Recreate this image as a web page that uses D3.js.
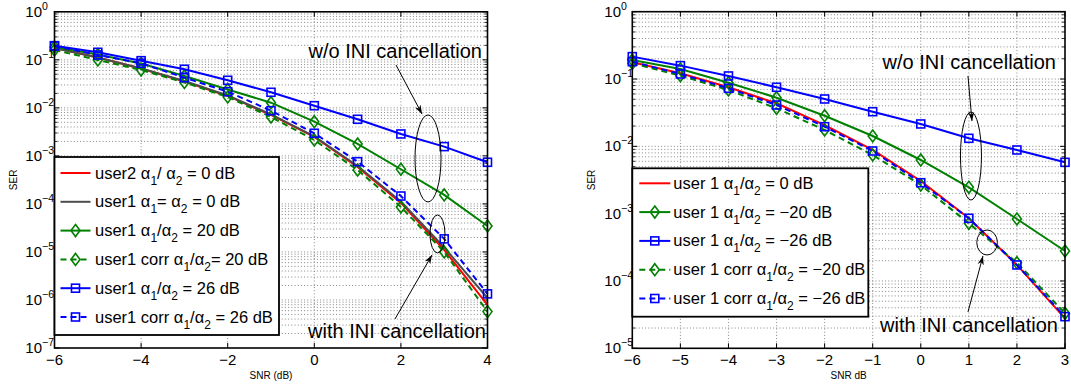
<!DOCTYPE html>
<html><head><meta charset="utf-8">
<script src="https://cdn.jsdelivr.net/npm/d3@7"></script>
<style>body{margin:0;background:#fff;} svg{display:block;font-family:"Liberation Sans",Arial,Helvetica,sans-serif;}</style>
</head><body><svg id="c" width="1071" height="387"></svg>
<script>
// ---------- data: left panel ----------
const snrLeft = [-6,-5,-4,-3,-2,-1,0,1,2,3,4];
const leftUser2Ratio0  = [0.176,0.112,0.066,0.0354,0.0177,0.00711,0.00248,5.88e-4,1.05e-4,1.10e-5,7.9e-7];
const leftUser1Equal0  = [0.176,0.112,0.066,0.0363,0.0181,0.00733,0.00254,6.17e-4,1.12e-4,1.24e-5,1.10e-6];
const leftUser1Ratio20 = [0.185,0.129,0.0839,0.0461,0.0241,0.0128,0.00515,0.00177,5.27e-4,1.54e-4,3.47e-5];
const leftUser1Corr20  = [0.160,0.0993,0.0615,0.0338,0.0168,0.00646,0.00214,5.09e-4,8.65e-5,1.0e-5,5.72e-7];
const leftUser1Ratio26 = [0.197,0.1435,0.096,0.0636,0.0375,0.0211,0.0111,0.00578,0.00286,0.00156,7.36e-4];
const leftUser1Corr26  = [0.194,0.126,0.0848,0.0425,0.0217,0.00874,0.00296,7.58e-4,1.46e-4,1.87e-5,1.34e-6];
const leftXTicks = [-6,-4,-2,0,2,4];
const leftYExponents = [0,-1,-2,-3,-4,-5,-6,-7];
const leftLegendLabels = ["user2 α{1}/ α{2} = 0 dB","user1 α{1}= α{2} = 0 dB","user1 α{1}/α{2} = 20 dB",
  "user1 corr α{1}/α{2}= 20 dB","user1 α{1}/α{2} = 26 dB","user1 corr α{1}/α{2} = 26 dB"];

// ---------- data: right panel ----------
const snrRight = [-6,-5,-4,-3,-2,-1,0,1,2,3];
const rightRatio0   = [0.177,0.1216,0.0754,0.0436,0.0207,0.00883,0.00306,8.53e-4,1.73e-4,2.78e-5];
const rightRatioM20 = [0.192,0.141,0.0882,0.0528,0.0285,0.01425,0.00627,0.00246,8.33e-4,2.79e-4];
const rightRatioM26 = [0.215,0.158,0.111,0.0754,0.0505,0.0327,0.0215,0.01316,0.00883,0.00579];
const rightCorrM20  = [0.171,0.112,0.0687,0.0367,0.0175,0.00743,0.00267,7.19e-4,1.87e-4,3.31e-5];
const rightCorrM26  = [0.181,0.1188,0.0728,0.0411,0.0196,0.00853,0.00288,8.53e-4,1.73e-4,2.95e-5];
const rightXTicks = [-6,-5,-4,-3,-2,-1,0,1,2,3];
const rightYExponents = [0,-1,-2,-3,-4,-5];
const rightLegendLabels = ["user 1 α{1}/α{2} = 0 dB","user 1 α{1}/α{2} = −20 dB","user 1 α{1}/α{2} = −26 dB",
  "user 1 corr α{1}/α{2} = −20 dB","user 1 corr α{1}/α{2} = −26 dB"];

const RED="#ff0000", GRAY="#4d4d4d", GREEN="#008000", BLUE="#0000ff";

const svg = d3.select('#c');
svg.append('rect').attr('width',1071).attr('height',387).attr('fill','#fff');
const defs = svg.append('defs');
defs.append('marker').attr('id','arr').attr('viewBox','0 0 10 10').attr('refX',10).attr('refY',5)
  .attr('markerWidth',9).attr('markerHeight',9).attr('markerUnits','userSpaceOnUse').attr('orient','auto')
  .append('path').attr('d','M0,1.5 L10,5 L0,8.5 L3,5 Z').attr('fill','#000');

function minus(s){ return String(s).replace('-','−'); }

function drawMarker(g, type, cx, cy, color){
  if(type==='diamond'){
    g.append('path').attr('d',`M${cx},${cy-6} L${cx+4.5},${cy} L${cx},${cy+6} L${cx-4.5},${cy} Z`)
      .attr('fill','none').attr('stroke',color).attr('stroke-width',1.6);
  } else if(type==='square'){
    g.append('rect').attr('x',cx-4).attr('y',cy-4).attr('width',8).attr('height',8)
      .attr('fill','none').attr('stroke',color).attr('stroke-width',1.6);
  }
}

function richText(sel, str, subSize){
  const parts = str.split(/\{(\d)\}/);
  let off = 0;
  parts.forEach((p,i)=>{
    if(p==='') return;
    if(i%2===1){
      sel.append('tspan').attr('font-size',subSize).attr('dy',6-off).text(p); off=6;
    } else {
      sel.append('tspan').attr('dy',0-off).text(p); off=0;
    }
  });
}

function panel(cfg){
  const x = d3.scaleLinear().domain(cfg.xDomain).range([cfg.left,cfg.right]);
  const y = d3.scaleLog().domain(cfg.yDomain).range([cfg.top,cfg.bottom]);
  const g = svg.append('g');
  const eMin = d3.min(cfg.yExp), eMax = d3.max(cfg.yExp);
  const GRID = '#6a6a6a';
  const gridVals = [];
  for(let e=eMin;e<eMax;e++){ for(let m=1;m<=9;m++){ const v=m*Math.pow(10,e); if(v>cfg.yDomain[1]*1.0001 && v<cfg.yDomain[0]*0.9999) gridVals.push(v);} }
  g.selectAll(null).data(gridVals).enter().append('line')
    .attr('x1',cfg.left).attr('x2',cfg.right).attr('y1',d=>y(d)).attr('y2',d=>y(d))
    .attr('stroke',GRID).attr('stroke-width',0.8).attr('stroke-dasharray','1,2.2');
  g.selectAll(null).data(cfg.xTicks.slice(1,-1)).enter().append('line')
    .attr('x1',d=>x(d)).attr('x2',d=>x(d)).attr('y1',cfg.top).attr('y2',cfg.bottom)
    .attr('stroke',GRID).attr('stroke-width',0.8).attr('stroke-dasharray','1,2.2');
  const minorTicks=[];
  for(let e=eMin;e<eMax;e++){ for(let m=2;m<=9;m++) minorTicks.push(m*Math.pow(10,e)); }
  const majorY = cfg.yExp.map(e=>Math.pow(10,e));
  [[cfg.left,1],[cfg.right,-1]].forEach(([x0,s])=>{
    g.selectAll(null).data(majorY).enter().append('line').attr('x1',x0).attr('x2',x0+s*5)
      .attr('y1',d=>y(d)).attr('y2',d=>y(d)).attr('stroke','#000').attr('stroke-width',1);
    g.selectAll(null).data(minorTicks).enter().append('line').attr('x1',x0).attr('x2',x0+s*3)
      .attr('y1',d=>y(d)).attr('y2',d=>y(d)).attr('stroke','#000').attr('stroke-width',0.8);
  });
  [[cfg.bottom,-1],[cfg.top,1]].forEach(([y0,s])=>{
    g.selectAll(null).data(cfg.xTicks).enter().append('line').attr('y1',y0).attr('y2',y0+s*5)
      .attr('x1',d=>x(d)).attr('x2',d=>x(d)).attr('stroke','#000').attr('stroke-width',1);
  });
  const line = d3.line().x(d=>x(d[0])).y(d=>y(d[1]));
  cfg.series.forEach(s=>{
    const pts = cfg.xs.map((v,i)=>[v,s.values[i]]);
    g.append('path').attr('d',line(pts)).attr('fill','none').attr('stroke',s.color)
      .attr('stroke-width',2).attr('stroke-dasharray',s.dash?'6,4':null);
    if(s.marker){ pts.forEach(p=>drawMarker(g,s.marker,x(p[0]),y(p[1]),s.color)); }
  });
  g.append('rect').attr('x',cfg.left).attr('y',cfg.top).attr('width',cfg.right-cfg.left).attr('height',cfg.bottom-cfg.top)
    .attr('fill','none').attr('stroke','#000').attr('stroke-width',1.6);
  g.selectAll(null).data(cfg.xTicks).enter().append('text').attr('x',d=>x(d)).attr('y',cfg.bottom+17)
    .attr('text-anchor','middle').attr('font-size',15).text(d=>minus(d));
  cfg.yExp.forEach(e=>{
    const yy = y(Math.pow(10,e));
    g.append('text').attr('x',cfg.left-cfg.tenGap).attr('y',yy+5).attr('text-anchor','end').attr('font-size',15).text('10');
    g.append('text').attr('x',cfg.left-cfg.tenGap).attr('y',yy-2).attr('text-anchor','start').attr('font-size',10.5).text(minus(e));
  });
  g.append('text').attr('x',(cfg.left+cfg.right)/2).attr('y',379).attr('text-anchor','middle').attr('font-size',10).text(cfg.xLabel);
  g.append('text').attr('transform',`translate(${cfg.yLabelX},${(cfg.top+cfg.bottom)/2}) rotate(-90)`)
    .attr('text-anchor','middle').attr('font-size',10).text('SER');
  const L = cfg.legend;
  g.append('rect').attr('x',L.x).attr('y',L.y).attr('width',L.w).attr('height',L.h)
    .attr('fill','#fff').attr('stroke','#000').attr('stroke-width',1.8);
  cfg.series.forEach((s,i)=>{
    const cy = L.y + L.first + i*L.step;
    g.append('line').attr('x1',L.x+L.lx0).attr('x2',L.x+L.lx1).attr('y1',cy).attr('y2',cy)
      .attr('stroke',s.color).attr('stroke-width',2).attr('stroke-dasharray',s.dash?'6,4':null);
    if(s.marker) drawMarker(g,s.marker,L.x+(L.lx0+L.lx1)/2,cy,s.color);
    const t = g.append('text').attr('x',L.x+L.tx).attr('y',cy+5.5).attr('font-size',16.5).attr('fill','#000');
    richText(t, cfg.labels[i], 12);
  });
  cfg.notes.forEach(n=>{
    if(n.type==='ellipse'){
      g.append('ellipse').attr('cx',x(n.x)).attr('cy',y(n.y)).attr('rx',n.rx).attr('ry',n.ry)
        .attr('fill','none').attr('stroke','#000').attr('stroke-width',1);
    } else if(n.type==='arrow'){
      g.append('line').attr('x1',x(n.x0)).attr('y1',y(n.y0)).attr('x2',x(n.x1)).attr('y2',y(n.y1))
        .attr('stroke','#000').attr('stroke-width',1).attr('marker-end','url(#arr)');
    } else if(n.type==='text'){
      g.append('text').attr('x',x(n.x)).attr('y',y(n.y)).attr('text-anchor','end').attr('font-size',20).text(n.text);
    }
  });
}

panel({
  left:54.5, right:487.5, top:11.8, bottom:348, xDomain:[-6,4], yDomain:[1,1e-7],
  xTicks:leftXTicks, yExp:leftYExponents, xs:snrLeft, tenGap:12.5, yLabelX:17, xLabel:'SNR (dB)',
  series:[
    {values:leftUser2Ratio0,color:RED},
    {values:leftUser1Equal0,color:GRAY},
    {values:leftUser1Ratio20,color:GREEN,marker:'diamond'},
    {values:leftUser1Corr20,color:GREEN,marker:'diamond',dash:true},
    {values:leftUser1Ratio26,color:BLUE,marker:'square'},
    {values:leftUser1Corr26,color:BLUE,marker:'square',dash:true}
  ],
  labels:leftLegendLabels,
  legend:{x:54.5,y:157,w:224.5,h:178,first:16,step:28.8,lx0:6,lx1:36,tx:40.5},
  notes:[
    {type:'text',x:3.873,y:0.109,text:'w/o INI cancellation'},
    {type:'arrow',x0:1.887,y0:0.078,x1:2.487,y1:7.45e-3},
    {type:'ellipse',x:2.626,y:8.83e-4,rx:13,ry:43.5},
    {type:'ellipse',x:2.845,y:2.37e-5,rx:7.5,ry:19},
    {type:'arrow',x0:1.864,y0:4.02e-7,x1:2.718,y1:8.64e-6},
    {type:'text',x:3.965,y:1.64e-7,text:'with INI cancellation'}
  ]
});

panel({
  left:632.3, right:1065, top:11.7, bottom:348.3, xDomain:[-6,3], yDomain:[1,1e-5],
  xTicks:rightXTicks, yExp:rightYExponents, xs:snrRight, tenGap:11.3, yLabelX:595, xLabel:'SNR dB',
  series:[
    {values:rightRatio0,color:RED},
    {values:rightRatioM20,color:GREEN,marker:'diamond'},
    {values:rightRatioM26,color:BLUE,marker:'square'},
    {values:rightCorrM20,color:GREEN,marker:'diamond',dash:true},
    {values:rightCorrM26,color:BLUE,marker:'square',dash:true}
  ],
  labels:rightLegendLabels,
  legend:{x:632.3,y:168.3,w:236,h:148.4,first:15,step:28.8,lx0:7,lx1:38,tx:41},
  notes:[
    {type:'text',x:2.812,y:0.141,text:'w/o INI cancellation'},
    {type:'arrow',x0:0.982,y0:0.111,x1:1.065,y1:0.0238},
    {type:'ellipse',x:1.044,y:7.18e-3,rx:10.5,ry:44},
    {type:'ellipse',x:1.379,y:3.73e-4,rx:10.3,ry:12.5},
    {type:'arrow',x0:0.982,y0:3.46e-5,x1:1.294,y1:2.35e-4},
    {type:'text',x:2.854,y:1.77e-5,text:'with INI cancellation'}
  ]
});
</script></body></html>
